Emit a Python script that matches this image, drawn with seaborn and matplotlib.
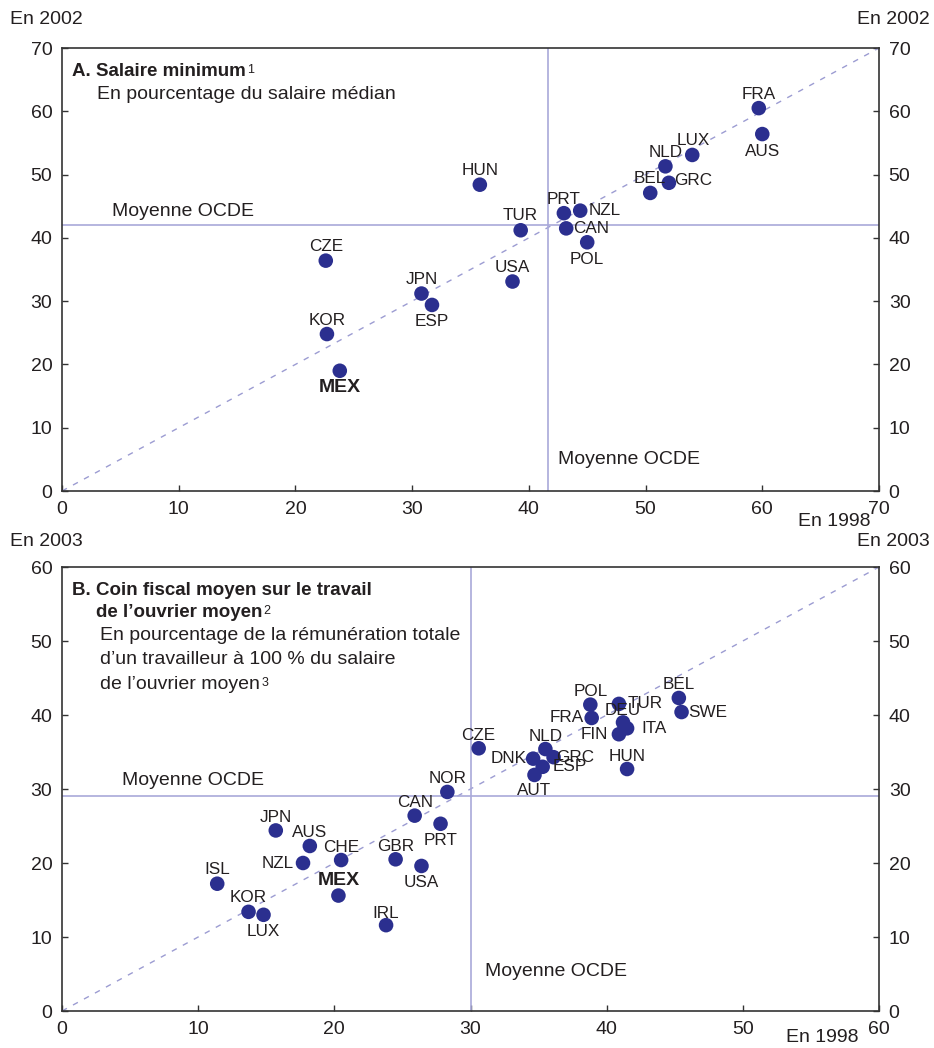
import matplotlib
matplotlib.use("Agg")
import matplotlib.pyplot as plt
import seaborn as sns
import pandas as pd

# ---- Panel A: minimum wage, % of median wage (1998 vs 2002)
a_codes = ["FRA", "AUS", "LUX", "NLD", "GRC", "BEL", "NZL", "PRT", "CAN", "POL",
           "TUR", "HUN", "USA", "CZE", "JPN", "ESP", "KOR", "MEX"]
a_1998 = [59.7, 60.0, 54.0, 51.7, 52.0, 50.4, 44.4, 43.0, 43.2, 45.0,
          39.3, 35.8, 38.6, 22.6, 30.8, 31.7, 22.7, 23.8]
a_2002 = [60.5, 56.4, 53.1, 51.3, 48.7, 47.1, 44.3, 43.9, 41.5, 39.3,
          41.2, 48.4, 33.1, 36.4, 31.2, 29.4, 24.8, 19.0]
a_oecd_1998 = 41.6
a_oecd_2002 = 42.0

# ---- Panel B: average tax wedge on labour, average production worker (1998 vs 2003)
b_codes = ["POL", "TUR", "BEL", "SWE", "FRA", "DEU", "ITA", "FIN", "CZE", "NLD",
           "GRC", "DNK", "ESP", "AUT", "HUN", "NOR", "CAN", "PRT", "JPN", "AUS",
           "CHE", "NZL", "GBR", "USA", "ISL", "MEX", "KOR", "LUX", "IRL"]
b_1998 = [38.8, 40.9, 45.3, 45.5, 38.9, 41.2, 41.5, 40.9, 30.6, 35.5,
          36.1, 34.6, 35.3, 34.7, 41.5, 28.3, 25.9, 27.8, 15.7, 18.2,
          20.5, 17.7, 24.5, 26.4, 11.4, 20.3, 13.7, 14.8, 23.8]
b_2003 = [41.4, 41.5, 42.3, 40.4, 39.6, 39.0, 38.2, 37.4, 35.5, 35.4,
          34.3, 34.1, 33.0, 31.9, 32.7, 29.6, 26.4, 25.3, 24.4, 22.3,
          20.4, 20.0, 20.5, 19.6, 17.2, 15.6, 13.4, 13.0, 11.6]
b_oecd_1998 = 30.0
b_oecd_2003 = 29.0

# label placement around each dot (pixel offsets of the label centre)
ABOVE, BELOW = (0, -14), (0, 17)
a_place = {"FRA": ABOVE, "AUS": BELOW, "LUX": (1, -14), "NLD": ABOVE, "GRC": (24, -2),
           "BEL": ABOVE, "NZL": (24, 0), "PRT": ABOVE, "CAN": (25, 0), "POL": BELOW,
           "TUR": (0, -15), "HUN": ABOVE, "USA": ABOVE, "CZE": ABOVE, "JPN": ABOVE,
           "ESP": BELOW, "KOR": ABOVE, "MEX": (0, 17)}
b_place = {"POL": (0, -13), "TUR": (26, 0), "BEL": (0, -13), "SWE": (26, 0),
           "FRA": (-25, 0), "DEU": (0, -12), "ITA": (27, 0), "FIN": (-25, 0),
           "CZE": (0, -13), "NLD": (0, -13), "GRC": (22, 0), "DNK": (-25, 0),
           "ESP": (27, 0), "AUT": (0, 16), "HUN": (0, -13), "NOR": (0, -13),
           "CAN": (0, -13), "PRT": BELOW, "JPN": (0, -13), "AUS": (0, -13),
           "CHE": (0, -13), "NZL": (-25, 0), "GBR": (0, -13), "USA": BELOW,
           "ISL": ABOVE, "MEX": (0, -15), "KOR": ABOVE, "LUX": BELOW, "IRL": (0, -12)}

DOT = "#2B2F8F"
REF = "#A9A9D9"
DIAG = "#9C9CD2"
TXT = "#231F20"
SPINE = "#333333"

sns.set_style("white")
plt.rcParams["font.family"] = ["Liberation Sans", "DejaVu Sans"]
plt.rcParams["text.color"] = TXT

fig = plt.figure(figsize=(9.34, 10.48), dpi=100)
W, H = 934, 1048
axA = fig.add_axes([62 / W, 1 - 491 / H, 817 / W, 443 / H])
axB = fig.add_axes([62 / W, 1 - 1011 / H, 817 / W, 444 / H])


def draw_panel(ax, codes, xs, ys, lim, ox, oy, place, hlab, vlab):
    df = pd.DataFrame({"code": codes, "x": xs, "y": ys})
    ax.set_xlim(0, lim)
    ax.set_ylim(0, lim)
    ax.plot([0, lim], [0, lim], ls=(0, (4, 5)), color=DIAG, lw=1.0, zorder=1)
    ax.axhline(oy, color=REF, lw=1.2, zorder=1)
    ax.axvline(ox, color=REF, lw=1.2, zorder=1)
    sns.scatterplot(data=df, x="x", y="y", ax=ax, s=110, color=DOT,
                    edgecolor="none", linewidth=0, zorder=3, legend=False)
    for c, x, y in zip(codes, xs, ys):
        dx, dy = place[c]
        bold = c == "MEX"
        ax.annotate(c, (x, y), xytext=(dx * 0.72, -dy * 0.72), textcoords="offset points",
                    ha="center", va="center", fontsize=14 if bold else 12.3,
                    fontweight="bold" if bold else "normal", color=TXT, zorder=4)
    ax.text(hlab[0], hlab[1], "Moyenne OCDE", fontsize=14, ha="left", va="center")
    ax.text(vlab[0], vlab[1], "Moyenne OCDE", fontsize=14, ha="left", va="center")
    ticks = list(range(0, lim + 1, 10))
    ax.set_xticks(ticks)
    ax.set_yticks(ticks)
    ax.set_xlabel("")
    ax.set_ylabel("")
    ax.tick_params(axis="both", which="both", direction="in", length=4, width=1,
                   color=SPINE, labelsize=14, labelcolor=TXT, pad=7)
    ax.tick_params(axis="y", right=True, labelright=True, left=True)
    ax.tick_params(axis="x", top=False, bottom=True)
    for s in ax.spines.values():
        s.set_visible(True)
        s.set_color(SPINE)
        s.set_linewidth(1.2)


draw_panel(axA, a_codes, a_1998, a_2002, 70, a_oecd_1998, a_oecd_2002, a_place,
           (4.3, 44.1), (42.5, 4.9))
draw_panel(axB, b_codes, b_1998, b_2003, 60, b_oecd_1998, b_oecd_2003, b_place,
           (4.4, 31.2), (31.1, 5.3))

# panel titles
tA = axA.text(0.0122, 0.946, "A. Salaire minimum", transform=axA.transAxes,
              fontsize=13.5, fontweight="bold", ha="left", va="center")
axA.annotate("1", xy=(1, 0.6), xycoords=tA, xytext=(1, 0), textcoords="offset points",
             fontsize=9, ha="left", va="center")
axA.text(0.0428, 0.894, "En pourcentage du salaire médian", transform=axA.transAxes,
         fontsize=14, ha="left", va="center")

axB.text(0.0122, 0.948, "B. Coin fiscal moyen sur le travail", transform=axB.transAxes,
         fontsize=13.5, fontweight="bold", ha="left", va="center")
tB = axB.text(0.0416, 0.898, "de l\u2019ouvrier moyen", transform=axB.transAxes,
              fontsize=13.5, fontweight="bold", ha="left", va="center")
axB.annotate("2", xy=(1, 0.6), xycoords=tB, xytext=(1, 0), textcoords="offset points",
             fontsize=9, ha="left", va="center")
axB.text(0.0465, 0.845, "En pourcentage de la rémunération totale", transform=axB.transAxes,
         fontsize=14, ha="left", va="center")
axB.text(0.0465, 0.791, "d\u2019un travailleur à 100 % du salaire", transform=axB.transAxes,
         fontsize=14, ha="left", va="center")
tB3 = axB.text(0.0465, 0.736, "de l\u2019ouvrier moyen", transform=axB.transAxes,
               fontsize=14, ha="left", va="center")
axB.annotate("3", xy=(1, 0.6), xycoords=tB3, xytext=(1, 0), textcoords="offset points",
             fontsize=9, ha="left", va="center")

# axis captions
fig.text(10 / W, 1 - 20 / H, "En 2002", fontsize=14, ha="left", va="center")
fig.text(930 / W, 1 - 20 / H, "En 2002", fontsize=14, ha="right", va="center")
fig.text(10 / W, 1 - 541 / H, "En 2003", fontsize=14, ha="left", va="center")
fig.text(930 / W, 1 - 541 / H, "En 2003", fontsize=14, ha="right", va="center")
fig.text(870 / W, 1 - 521 / H, "En 1998", fontsize=14, ha="right", va="center")
fig.text(858 / W, 1 - 1038 / H, "En 1998", fontsize=14, ha="right", va="center")

fig.savefig("out.png", dpi=100, facecolor="white")
